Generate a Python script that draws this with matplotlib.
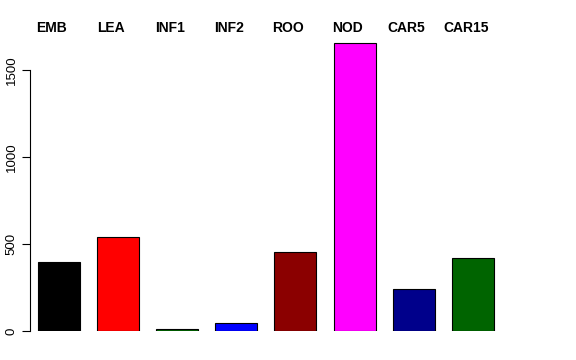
import matplotlib
matplotlib.use("Agg")
from matplotlib import pyplot as plt

plt.rcParams["font.family"] = ["Liberation Sans", "DejaVu Sans"]

tissues = ["EMB", "LEA", "INF1", "INF2", "ROO", "NOD", "CAR5", "CAR15"]
counts = [396, 540, 11, 46, 454, 1655, 241, 420]
colors = ["black", "red", "#006400", "blue", "#8B0000", "magenta", "#00008B", "#006400"]

W, H = 576, 360
fig = plt.figure(figsize=(W / 100, H / 100), dpi=100)

# axes in pixel coords: y=0 at 331px, 1500 at 70px
scale = (331 - 70) / 1500
top_px = 40
ylim_top = (331 - top_px) / scale
ax = fig.add_axes([30 / W, (H - 331) / H, (546 - 30) / W, (331 - top_px) / H])

step = 59.1
x0 = (30 - 59) / step
x1 = (546 - 59) / step
pos = list(range(len(tissues)))
ax.bar(pos, counts, width=42 / step, color=colors, edgecolor="black", linewidth=0.8)
ax.set_xlim(x0, x1)
ax.set_ylim(0, ylim_top)

for s in ["top", "right", "bottom"]:
    ax.spines[s].set_visible(False)
ax.spines["left"].set_bounds(0, 1500)
ax.spines["left"].set_linewidth(0.8)
ax.set_xticks([])
ax.set_yticks([0, 500, 1000, 1500])
ax.set_yticklabels(["0", "500", "1000", "1500"], rotation=90, va="center", fontsize=9.5)
ax.tick_params(axis="y", length=6, width=0.8, pad=3)

# labels along the top, slightly left of each bar centre
for name, p in zip(tissues, pos):
    px = 51.5 + 59.2 * p
    fig.text(px / W, 1 - 28.5 / H, name, ha="center", va="center",
             fontsize=10, fontweight="bold")

plt.savefig("out.png", dpi=100)
